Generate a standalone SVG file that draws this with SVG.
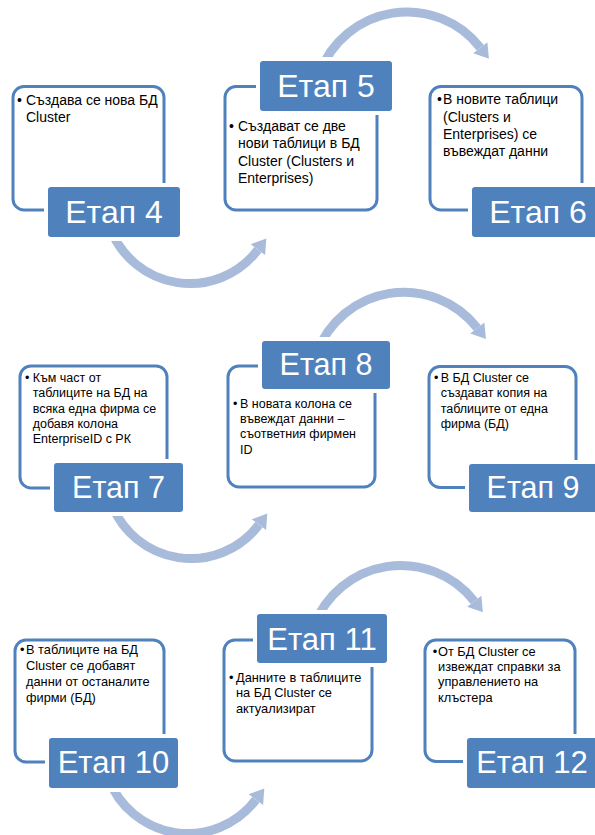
<svg xmlns="http://www.w3.org/2000/svg" width="595" height="835" viewBox="0 0 595 835">
<style>
.box{fill:#FFFFFF;stroke:#4F81BD;stroke-width:3}
.halo{fill:#FFFFFF}
.lab{fill:#4F81BD}
.lt{font-family:"Liberation Sans",Arial,sans-serif;fill:#FFFFFF;text-anchor:middle}
.t1{font-family:"Liberation Sans",Arial,sans-serif;font-size:14px;fill:#000000}
.t2{font-family:"Liberation Sans",Arial,sans-serif;font-size:12.5px;fill:#000000}
.t3{font-family:"Liberation Sans",Arial,sans-serif;font-size:12.8px;fill:#000000}
.arc{fill:none;stroke:#A9BBDB;stroke-width:9}
.head{fill:#A9BBDB}
</style>
<rect width="595" height="835" fill="#FFFFFF"/>
<g id="connectors">
  <path class="arc" d="M110.1,227.6 A85,85 0 0 0 257.9,249.7"/>
  <polygon class="head" points="266.3,238.5 265.1,255.1 250.7,244.3"/>
  <path class="arc" d="M319.6,73.2 A93,93 0 0 1 480.3,47.7"/>
  <polygon class="head" points="488.9,58.7 487.4,42.2 473.2,53.2"/>
  <path class="arc" d="M111.1,502.6 A85,85 0 0 0 258.9,524.7"/>
  <polygon class="head" points="267.3,513.5 266.1,530.1 251.7,519.3"/>
  <path class="arc" d="M316.6,353.5 A93,93 0 0 1 477.3,328"/>
  <polygon class="head" points="485.9,339 484.4,322.5 470.2,333.5"/>
  <path class="arc" d="M108.1,777.6 A85,85 0 0 0 255.9,799.7"/>
  <polygon class="head" points="264.3,788.5 263.1,805.1 248.7,794.3"/>
  <path class="arc" d="M313.6,626.7 A93,93 0 0 1 474.3,601.2"/>
  <polygon class="head" points="482.9,612.2 481.4,595.7 467.2,606.7"/>
</g>
<g id="stage4">
  <rect class="box" x="13" y="86.5" width="151" height="123.5" rx="11"/>
  <text class="t1" x="17" y="105">•</text>
  <text class="t1" x="26" y="105">Създава се нова БД</text>
  <text class="t1" x="26" y="121.7">Cluster</text>
  <rect class="halo" x="44" y="183" width="140" height="58" rx="5"/>
  <rect class="lab" x="48" y="187" width="132" height="50" rx="3"/>
  <text class="lt" x="114" y="222.7" font-size="32">Етап 4</text>
</g>
<g id="stage5">
  <rect class="box" x="225" y="86.5" width="152" height="123.5" rx="11"/>
  <text class="t1" x="229" y="131">•</text>
  <text class="t1" x="238" y="131">Създават се две</text>
  <text class="t1" x="238" y="148.3">нови таблици в БД</text>
  <text class="t1" x="238" y="165.6">Cluster (Clusters и</text>
  <text class="t1" x="238" y="183">Enterprises)</text>
  <rect class="halo" x="256" y="57" width="140" height="58" rx="5"/>
  <rect class="lab" x="260" y="61" width="132" height="50" rx="3"/>
  <text class="lt" x="326" y="96.7" font-size="32">Етап 5</text>
</g>
<g id="stage6">
  <rect class="box" x="430" y="86.5" width="152" height="123.5" rx="11"/>
  <text class="t1" x="437" y="104.3">•</text>
  <text class="t1" x="443" y="104.3">В новите таблици</text>
  <text class="t1" x="443" y="121.5">(Clusters и</text>
  <text class="t1" x="443" y="138.7">Enterprises) се</text>
  <text class="t1" x="443" y="156">въвеждат данни</text>
  <rect class="halo" x="468" y="183" width="140" height="58" rx="5"/>
  <rect class="lab" x="472" y="187" width="132" height="50" rx="3"/>
  <text class="lt" x="538" y="222.7" font-size="32">Етап 6</text>
</g>
<g id="stage7">
  <rect class="box" x="20" y="366" width="147" height="122" rx="11"/>
  <text class="t2" x="25" y="381.7">•</text>
  <text class="t2" x="32.7" y="381.7">Към част от</text>
  <text class="t2" x="32.7" y="397.1">таблиците на БД на</text>
  <text class="t2" x="32.7" y="412.5">всяка една фирма се</text>
  <text class="t2" x="32.7" y="427.9">добавя колона</text>
  <text class="t2" x="32.7" y="443.3">EnterpriseID с РК</text>
  <rect class="halo" x="50" y="459" width="137" height="57" rx="5"/>
  <rect class="lab" x="54" y="463" width="129" height="49" rx="3"/>
  <text class="lt" x="118.5" y="498.3" font-size="30.5">Етап 7</text>
</g>
<g id="stage8">
  <rect class="box" x="228" y="366" width="147" height="121" rx="11"/>
  <text class="t2" x="233" y="407.7">•</text>
  <text class="t2" x="240" y="407.7">В новата колона се</text>
  <text class="t2" x="240" y="423">въвеждат данни –</text>
  <text class="t2" x="240" y="438.3">съответния фирмен</text>
  <text class="t2" x="240" y="453.8">ID</text>
  <rect class="halo" x="258" y="337" width="136" height="56" rx="5"/>
  <rect class="lab" x="262" y="341" width="128" height="48" rx="3"/>
  <text class="lt" x="326" y="375" font-size="30.5">Етап 8</text>
</g>
<g id="stage9">
  <rect class="box" x="429" y="366.5" width="147" height="121" rx="11"/>
  <text class="t2" x="434" y="381.7">•</text>
  <text class="t2" x="440.7" y="381.7">В БД Cluster се</text>
  <text class="t2" x="440.7" y="397.2">създават копия на</text>
  <text class="t2" x="440.7" y="412.7">таблиците от една</text>
  <text class="t2" x="440.7" y="428.2">фирма (БД)</text>
  <rect class="halo" x="465" y="460" width="136" height="56" rx="5"/>
  <rect class="lab" x="469" y="464" width="128" height="48" rx="3"/>
  <text class="lt" x="533" y="498.3" font-size="30.5">Етап 9</text>
</g>
<g id="stage10">
  <rect class="box" x="15" y="640" width="149" height="122" rx="11"/>
  <text class="t3" x="20" y="654.3">•</text>
  <text class="t3" x="26" y="654.3">В таблиците на БД</text>
  <text class="t3" x="26" y="670">Cluster се добавят</text>
  <text class="t3" x="26" y="685.8">данни от останалите</text>
  <text class="t3" x="26" y="701.6">фирми (БД)</text>
  <rect class="halo" x="45" y="734" width="137" height="58" rx="5"/>
  <rect class="lab" x="49" y="738" width="129" height="50" rx="3"/>
  <text class="lt" x="113.5" y="773.3" font-size="31">Етап 10</text>
</g>
<g id="stage11">
  <rect class="box" x="224" y="640" width="148" height="121" rx="11"/>
  <text class="t3" x="229" y="681.7">•</text>
  <text class="t3" x="236" y="681.7">Данните в таблиците</text>
  <text class="t3" x="236" y="697.2">на БД Cluster се</text>
  <text class="t3" x="236" y="712.7">актуализират</text>
  <rect class="halo" x="253" y="610" width="138" height="57" rx="5"/>
  <rect class="lab" x="257" y="614" width="130" height="49" rx="3"/>
  <text class="lt" x="322" y="650" font-size="31">Етап 11</text>
</g>
<g id="stage12">
  <rect class="box" x="425" y="640" width="150" height="121.5" rx="11"/>
  <text class="t3" x="432.7" y="655.7">•</text>
  <text class="t3" x="438" y="655.7">От БД Cluster се</text>
  <text class="t3" x="438" y="671">извеждат справки за</text>
  <text class="t3" x="438" y="686.3">управлението на</text>
  <text class="t3" x="438" y="701.6">клъстера</text>
  <rect class="halo" x="463" y="734" width="138" height="58" rx="5"/>
  <rect class="lab" x="467" y="738" width="130" height="50" rx="3"/>
  <text class="lt" x="532" y="773.3" font-size="31">Етап 12</text>
</g>
</svg>
